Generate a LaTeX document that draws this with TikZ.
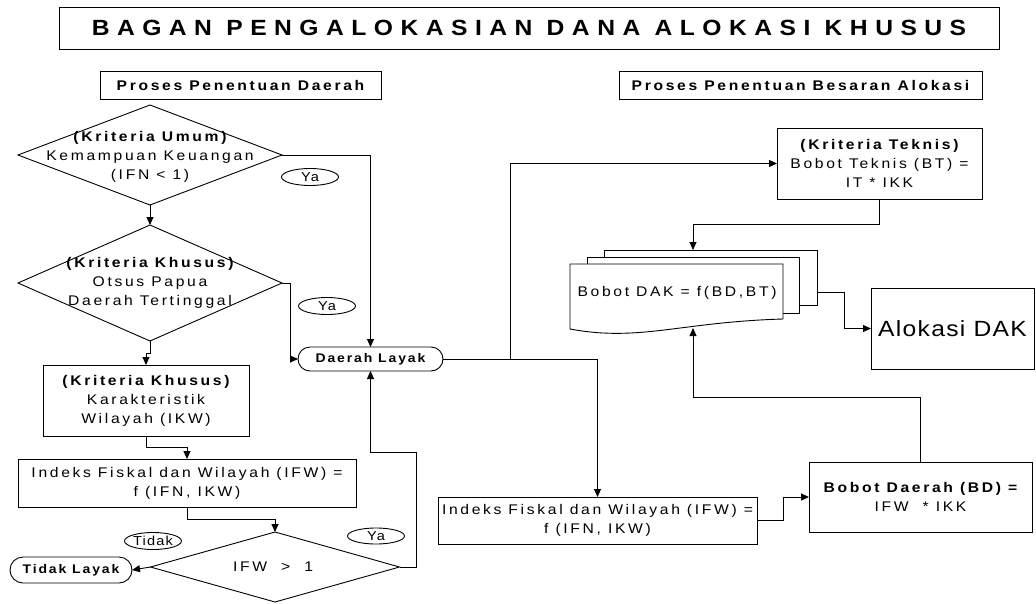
\documentclass[tikz,border=0pt]{standalone}
\usepackage{fontspec}
\setmainfont{Liberation Sans}
\newfontfamily\ftitle[LetterSpace=34,FakeStretch=1.12]{Liberation Sans}
\newfontfamily\fhead[LetterSpace=19,FakeStretch=1.12]{Liberation Sans}
\newfontfamily\fbody[LetterSpace=19,FakeStretch=1.12]{Liberation Sans}
\newfontfamily\fbig[LetterSpace=6,FakeStretch=1.12]{Liberation Sans}
\newfontfamily\fterm[LetterSpace=15,FakeStretch=1.12]{Liberation Sans}
\newfontfamily\flab[LetterSpace=9,FakeStretch=1.12]{Liberation Sans}
\usetikzlibrary{shapes.geometric,shapes.misc,arrows.meta}
\begin{document}
\begin{tikzpicture}[x=1pt,y=-1pt,line width=0.9pt,
  >={Triangle[length=8pt,width=7pt]},
  box/.style={draw,rectangle,inner sep=0pt,outer sep=0pt,align=center,font=\fbody\fontsize{14}{19}\selectfont},
  diam/.style={draw,diamond,inner sep=0pt,outer sep=0pt},
  txt/.style={align=center,inner sep=0pt,font=\fbody\fontsize{14}{19}\selectfont},
  term/.style={draw,rounded rectangle,inner sep=0pt,outer sep=0pt,font=\fterm\bfseries\fontsize{12.5}{15}\selectfont},
  lab/.style={draw,ellipse,inner sep=0pt,minimum width=57pt,minimum height=17pt,font=\flab\fontsize{13}{15}\selectfont},
  head/.style={draw,rectangle,inner sep=0pt,outer sep=0pt,minimum height=28pt,font=\fhead\bfseries\fontsize{14}{17}\selectfont},
  sheet/.style={draw,fill=white,rectangle,inner sep=0pt,outer sep=0pt},
  conn/.style={->}]
\useasboundingbox (0,0) rectangle (1036,603);

% title and headers
\node[draw,inner sep=0pt,minimum width=940pt,minimum height=42pt,font=\ftitle\bfseries\fontsize{22}{26}\selectfont] (title) at (529,28) {BAGAN PENGALOKASIAN DANA ALOKASI KHUSUS};
\node[head,minimum width=281pt] (h1) at (240.5,85) {Proses Penentuan Daerah};
\node[head,minimum width=363pt] (h2) at (800.5,85) {Proses Penentuan Besaran Alokasi};

% left column
\node[diam,minimum width=264pt,minimum height=100pt] (d1) at (150,155) {};
\node[txt] (d1t) at (150,157) {\bfseries(Kriteria Umum)\\Kemampuan Keuangan\\(IFN < 1)};
\node[diam,minimum width=264pt,minimum height=116pt] (d2) at (150,283) {};
\node[txt] (d2t) at (150,283) {\bfseries(Kriteria Khusus)\\Otsus Papua\\Daerah Tertinggal};
\node[box,minimum width=206pt,minimum height=71pt] (kk) at (146,400.5) {\bfseries(Kriteria Khusus)\\Karakteristik\\Wilayah (IKW)};
\node[box,minimum width=338pt,minimum height=48pt] (ifw1) at (187,483) {Indeks Fiskal dan Wilayah (IFW) =\\f (IFN, IKW)};
\node[diam,minimum width=249pt,minimum height=70pt] (d3) at (275,567) {};
\node[txt] (d3t) at (273,567) {IFW \ > \ 1};
\node[term,minimum width=122pt,minimum height=26pt] (tl) at (71,570) {Tidak Layak};
\node[term,minimum width=145pt,minimum height=24pt] (dl) at (370.5,359) {Daerah Layak};

\node[lab] (ya1) at (310,177) {Ya};
\node[lab] (ya2) at (327,306) {Ya};
\node[lab,minimum height=16pt] (ya3) at (376,536) {Ya};
\node[lab] (tdk) at (153,541) {Tidak};

% right column
\node[box,minimum width=205pt,minimum height=71pt] (bt) at (879.5,163.5) {\bfseries(Kriteria Teknis)\\Bobot Teknis (BT) =\\IT * IKK};
\node[sheet,minimum width=213pt,minimum height=55pt] (sh3) at (710.5,277.5) {};
\node[sheet,minimum width=212pt,minimum height=56pt] (sh2) at (693,285) {};
\draw[fill=white] (570,264) -- (783,264) -- (783,319) .. controls (680,322) and (640,342) .. (570,329) -- cycle;
\node[txt] (dak) at (677,293) {Bobot DAK = f(BD,BT)};
\node[draw,inner sep=0pt,outer sep=0pt,minimum width=163pt,minimum height=81pt,font=\fbig\fontsize{22}{26}\selectfont] (alok) at (952.5,328.5) {Alokasi DAK};
\node[box,minimum width=319pt,minimum height=47pt] (ifw2) at (597.5,520.5) {Indeks Fiskal dan Wilayah (IFW) =\\f (IFN, IKW)};
\node[box,minimum width=223pt,minimum height=70pt] (bd) at (920.5,497) {\bfseries Bobot Daerah (BD) =\\IFW \ * IKK};

\coordinate (j1) at (510,359);
\coordinate (dakin) at (693,250);
\coordinate (dakout) at (693,328);
\coordinate (shout) at (817,292);
\coordinate (j7) at (416,452);

% connectors left
\draw[conn] (d1.east) -| (dl.north);
\draw[conn] (d1.south) -- (d2.north);
\draw[conn] (d2.east) -- ++(8,0) |- (dl.west);
\draw[conn] (d2.south) -- ++(0,12) -| (kk.north);
\draw[conn] (kk.south) -- ++(0,11) -| (ifw1.north);
\draw[conn] (ifw1.south) -- ++(0,12) -| (d3.north);
\draw[conn] (d3.east) -| (j7) -| (dl.south);
\draw[conn] (d3.west) -- (tl.east);

% connectors right
\draw[conn] (dl.east) -- (j1) |- (bt.west);
\draw[conn] (dl.east) -| (ifw2.north);
\draw[conn] (bt.south) -- ++(0,25) -| (dakin);
\draw[conn] (shout) -- ++(27,0) |- (alok.west);
\draw[conn] (ifw2.east) -- ++(26,0) |- (bd.west);
\draw[conn] (bd.north) -- ++(0,-65) -| (dakout);
\end{tikzpicture}
\end{document}
